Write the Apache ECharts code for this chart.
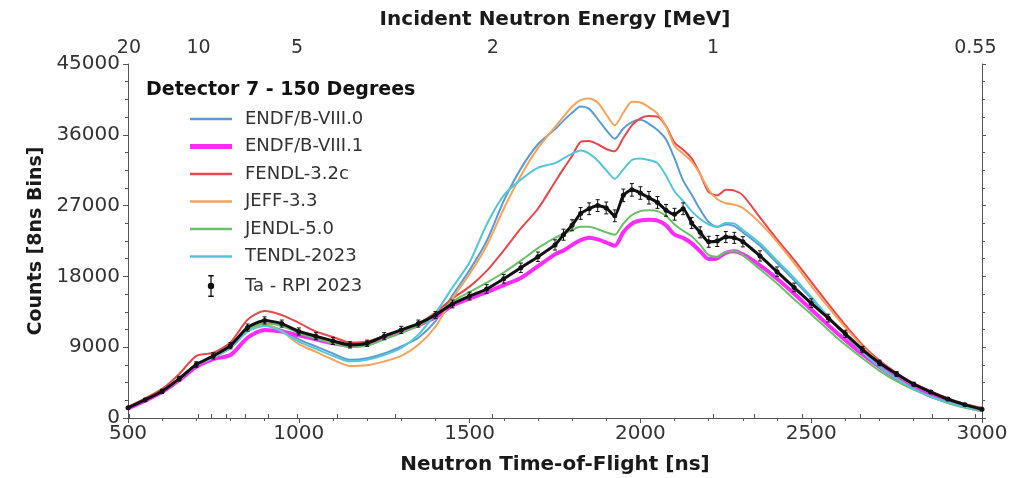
<!DOCTYPE html>
<html>
<head>
<meta charset="utf-8">
<script src="https://cdn.jsdelivr.net/npm/echarts@6/dist/echarts.min.js"></script>
<style>
  html, body { margin: 0; padding: 0; background: #fff; }
  #main { width: 1012px; height: 478px; }
</style>
</head>
<body>
<div id="main"></div>
<script>
// time-of-flight grid (ns): 50 ns steps, 25 ns through the double peak
const tof = [500, 550, 600, 650, 700, 750, 800, 850, 900, 950, 1000, 1050, 1100, 1150, 1200, 1250, 1300,
  1350, 1400, 1450, 1500, 1550, 1600, 1650, 1700, 1750,
  1775, 1800, 1825, 1850, 1875, 1900, 1925, 1950, 1975, 2000, 2025, 2050, 2075, 2100, 2125, 2150, 2175,
  2200, 2225, 2250, 2275, 2300,
  2350, 2400, 2450, 2500, 2550, 2600, 2650, 2700, 2750, 2800, 2850, 2900, 2950, 3000];

const endf80 = [1300, 2300, 3400, 4900, 6700, 7700, 8900, 11000, 11800, 11200, 10000, 9100, 8200, 7400, 7600, 8200, 9100,
  10200, 12300, 15600, 18800, 22500, 27600, 31700, 34800, 36700,
  37800, 38800, 39600, 39300, 38000, 36600, 35500, 36800, 37600, 37900, 37400, 36600, 35400, 33000, 30200, 28400, 26500,
  24900, 24300, 24600, 24400, 23600,
  21900, 19700, 17500, 15200, 12800, 10500, 8300, 6400, 4900, 3700, 2700, 2000, 1400, 1000];

const endf81 = [1200, 2200, 3300, 4800, 6500, 7500, 8000, 10200, 11200, 11000, 10500, 10000, 9500, 9200, 9400, 10200, 11000,
  11800, 12800, 14300, 15200, 16000, 16900, 17800, 19300, 20800,
  21300, 22000, 22600, 22900, 22700, 22300, 21900, 23600, 24700, 25100, 25200, 25100, 24500, 23300, 22900, 22200, 21200,
  20200, 20300, 21000, 21200, 20800,
  19400, 17700, 15800, 13800, 11800, 9900, 8100, 6500, 5100, 3900, 2900, 2100, 1500, 1000];

const fendl = [1400, 2500, 3700, 5600, 7900, 8300, 9600, 12500, 13600, 13100, 12100, 11000, 10300, 9600, 9700, 10400, 11200,
  12000, 13400, 15200, 16700, 18700, 21300, 24100, 26600, 30000,
  31700, 33300, 35100, 35200, 34800, 34200, 33900, 35600, 37200, 38100, 38400, 38300, 37100, 35000, 34100, 33000, 31000,
  28700, 28300, 29000, 28900, 28300,
  25500, 22700, 20100, 17300, 14500, 11800, 9300, 7300, 5700, 4400, 3400, 2500, 1800, 1300];

const jeff = [1300, 2300, 3400, 4900, 6700, 7700, 8900, 11100, 11900, 11000, 9400, 8400, 7400, 6600, 6700, 7200, 7900,
  9300, 11600, 15200, 18300, 21900, 26600, 30800, 34300, 37000,
  38300, 39600, 40400, 40600, 40100, 38600, 37200, 38800, 40200, 40100, 39500, 38700, 37100, 34600, 33600, 32600, 31000,
  29000, 27800, 27300, 27100, 26700,
  24800, 22400, 19700, 16800, 14100, 11500, 9100, 7100, 5500, 4200, 3200, 2300, 1700, 1100];

const jendl = [1300, 2300, 3400, 4900, 6700, 7800, 9000, 11300, 12000, 11700, 10800, 10100, 9500, 9000, 9200, 10000, 10800,
  11700, 13000, 14800, 16000, 17200, 18500, 20000, 21600, 22900,
  23400, 23900, 24300, 24300, 24000, 23600, 23300, 24700, 25800, 26300, 26400, 26300, 25700, 24600, 23800, 23100, 22000,
  20700, 20500, 21100, 21200, 20700,
  18900, 17100, 15100, 13200, 11200, 9300, 7600, 6000, 4700, 3600, 2700, 1900, 1300, 900];

const tendl = [1300, 2300, 3400, 4900, 6700, 7700, 8900, 11000, 11700, 11000, 9700, 8800, 7900, 7200, 7400, 8000, 8900,
  10600, 13300, 16600, 19800, 24600, 28300, 30300, 31800, 32400,
  33000, 33600, 34000, 33600, 32700, 31500, 30400, 31600, 32800, 33000, 32800, 32400, 30800, 28800, 27600, 26300, 25300,
  24600, 24300, 24800, 24700, 23900,
  22200, 20000, 17800, 15400, 12900, 10600, 8400, 6500, 5000, 3700, 2700, 2000, 1400, 1000];

const taRpi = [1300, 2300, 3400, 5000, 6800, 7900, 9200, 11500, 12400, 12000, 11000, 10400, 9800, 9300, 9500, 10400, 11200,
  12000, 13100, 14500, 15500, 16400, 17700, 19100, 20500, 22000,
  23300, 24500, 26000, 26600, 27000, 26700, 25700, 28300, 29000, 28600, 28000, 27400, 26400, 25900, 26600, 24800, 23600,
  22400, 22500, 23000, 22900, 22400,
  20600, 18600, 16600, 14600, 12700, 10700, 8700, 7000, 5600, 4300, 3300, 2400, 1700, 1100];

const taRpiErr = [150, 200, 250, 300, 350, 400, 400, 450, 450, 450, 450, 450, 450, 400, 400, 450, 450,
  450, 450, 500, 500, 550, 550, 600, 600, 650,
  700, 700, 750, 750, 750, 750, 750, 800, 800, 800, 800, 750, 750, 750, 750, 700, 700,
  700, 700, 700, 700, 650,
  650, 600, 550, 550, 500, 450, 400, 350, 300, 250, 200, 200, 150, 150];

// top axis: incident energy in MeV
const energyLabels = [20, 10, 5, 2, 1, 0.55];
const energyMinor = [9, 8, 7, 6, 4, 3, 0.9, 0.8, 0.7, 0.6];

// neutron flight time (ns) for energy E (MeV) on this flight path
function tofOf(e) { return 2203 / Math.sqrt(e) + 10; }

const pairs = ys => tof.map((t, i) => [t, ys[i]]);

const FONT = 'DejaVu Sans';
const AXIS_COLOR = '#555';

const models = [
  { name: 'ENDF/B-VIII.0', data: endf80, color: '#5b9bd5', width: 2 },
  { name: 'ENDF/B-VIII.1', data: endf81, color: '#ff2bff', width: 4 },
  { name: 'FENDL-3.2c', data: fendl, color: '#e8474c', width: 2 },
  { name: 'JEFF-3.3', data: jeff, color: '#f7a35c', width: 2 },
  { name: 'JENDL-5.0', data: jendl, color: '#6abf69', width: 2 },
  { name: 'TENDL-2023', data: tendl, color: '#55c6d6', width: 2 }
];

const series = models.map(m => ({
  name: m.name,
  type: 'line',
  data: pairs(m.data),
  symbol: 'none',
  smooth: 0.25,
  lineStyle: { color: m.color, width: m.width },
  itemStyle: { color: m.color },
  z: 2
}));

series.push({
  name: 'Ta - RPI 2023',
  type: 'line',
  data: pairs(taRpi),
  symbol: 'circle',
  symbolSize: 5,
  smooth: 0.2,
  lineStyle: { color: '#111', width: 3 },
  itemStyle: { color: '#111' },
  z: 4
});

series.push({
  name: 'Ta - RPI 2023',
  type: 'custom',
  data: tof.map((t, i) => [t, taRpi[i], taRpiErr[i]]),
  encode: { x: 0, y: 1 },
  z: 4,
  renderItem(params, api) {
    const x = api.value(0), y = api.value(1), e = api.value(2);
    const lo = api.coord([x, y - e]);
    const hi = api.coord([x, y + e]);
    const st = { stroke: '#111', lineWidth: 1 };
    return {
      type: 'group',
      children: [
        { type: 'line', shape: { x1: lo[0], y1: lo[1], x2: hi[0], y2: hi[1] }, style: st },
        { type: 'line', shape: { x1: lo[0] - 2, y1: lo[1], x2: lo[0] + 2, y2: lo[1] }, style: st },
        { type: 'line', shape: { x1: hi[0] - 2, y1: hi[1], x2: hi[0] + 2, y2: hi[1] }, style: st }
      ]
    };
  }
});

// legend glyphs: plain line strokes, and a point with an error bar
const thinLine = 'path://M0,0H40V2.2H0Z';
const thickLine = 'path://M0,0H40V4.6H0Z';
const errIcon = 'path://M2,0H8V1.6H2Z M4.3,0H5.7V24H4.3Z M2,22.4H8V24H2Z M5,8.5A3.5,3.5,0,1,1,4.99,8.5Z';

const chart = echarts.init(document.getElementById('main'), null, { renderer: 'canvas' });

chart.setOption({
  animation: false,
  backgroundColor: '#fff',
  title: {
    text: 'Detector 7 - 150 Degrees',
    left: 146,
    top: 81,
    padding: 0,
    textStyle: { fontFamily: FONT, fontSize: 19, fontWeight: 'bold', color: '#111' }
  },
  legend: {
    orient: 'vertical',
    left: 190,
    top: 110,
    padding: 0,
    itemWidth: 42,
    itemHeight: 22,
    itemGap: 9.5,
    textStyle: { fontFamily: FONT, fontSize: 18, color: '#333', padding: [0, 0, 0, 8] },
    data: models.map(m => ({ name: m.name, icon: m.width > 3 ? thickLine : thinLine }))
      .concat([{ name: 'Ta - RPI 2023', icon: errIcon }])
  },
  grid: { left: 128, right: 30, top: 64, bottom: 60, outerBoundsMode: 'none', containLabel: false },
  xAxis: [
    {
      type: 'value',
      min: 500,
      max: 3000,
      interval: 500,
      name: 'Neutron Time-of-Flight [ns]',
      nameLocation: 'middle',
      nameGap: 37,
      nameTextStyle: { fontFamily: FONT, fontSize: 20, fontWeight: 'bold', color: '#1a1a1a' },
      axisLine: { lineStyle: { color: AXIS_COLOR } },
      axisTick: { length: 5, lineStyle: { color: AXIS_COLOR } },
      minorTick: { show: true, splitNumber: 5, length: 3, lineStyle: { color: AXIS_COLOR } },
      axisLabel: { fontFamily: FONT, fontSize: 20, color: '#333', margin: 6, formatter: v => String(v) },
      splitLine: { show: false }
    },
    {
      type: 'value',
      position: 'top',
      min: 500,
      max: 3000,
      name: 'Incident Neutron Energy [MeV]',
      nameLocation: 'middle',
      nameGap: 34,
      nameTextStyle: { fontFamily: FONT, fontSize: 20, fontWeight: 'bold', color: '#1a1a1a' },
      axisLine: { lineStyle: { color: AXIS_COLOR } },
      axisTick: {
        length: 4,
        customValues: energyLabels.concat(energyMinor).map(tofOf),
        lineStyle: { color: AXIS_COLOR }
      },
      axisLabel: {
        fontFamily: FONT,
        fontSize: 19,
        color: '#333',
        margin: 6,
        customValues: energyLabels.map(tofOf),
        formatter: v => {
          const e = energyLabels.find(en => Math.abs(tofOf(en) - v) < 1);
          return e === undefined ? '' : String(e);
        }
      },
      splitLine: { show: false }
    }
  ],
  yAxis: [
    {
      type: 'value',
      min: 0,
      max: 45000,
      interval: 9000,
      name: 'Counts [8ns Bins]',
      nameLocation: 'middle',
      nameGap: 70,
      nameTextStyle: { fontFamily: FONT, fontSize: 19, fontWeight: 'bold', color: '#1a1a1a' },
      axisLine: { show: true, lineStyle: { color: AXIS_COLOR } },
      axisTick: { show: true, length: 5, lineStyle: { color: AXIS_COLOR } },
      minorTick: { show: true, splitNumber: 4, length: 3, lineStyle: { color: AXIS_COLOR } },
      axisLabel: { fontFamily: FONT, fontSize: 20, color: '#333', margin: 8, formatter: v => String(v) },
      splitLine: { show: false }
    },
    {
      type: 'value',
      position: 'right',
      min: 0,
      max: 45000,
      interval: 9000,
      axisLine: { show: true, lineStyle: { color: AXIS_COLOR } },
      axisTick: { show: true, length: 4, lineStyle: { color: AXIS_COLOR } },
      minorTick: { show: true, splitNumber: 4, length: 3, lineStyle: { color: AXIS_COLOR } },
      axisLabel: { show: false },
      splitLine: { show: false }
    }
  ],
  series: series
});
</script>
</body>
</html>
